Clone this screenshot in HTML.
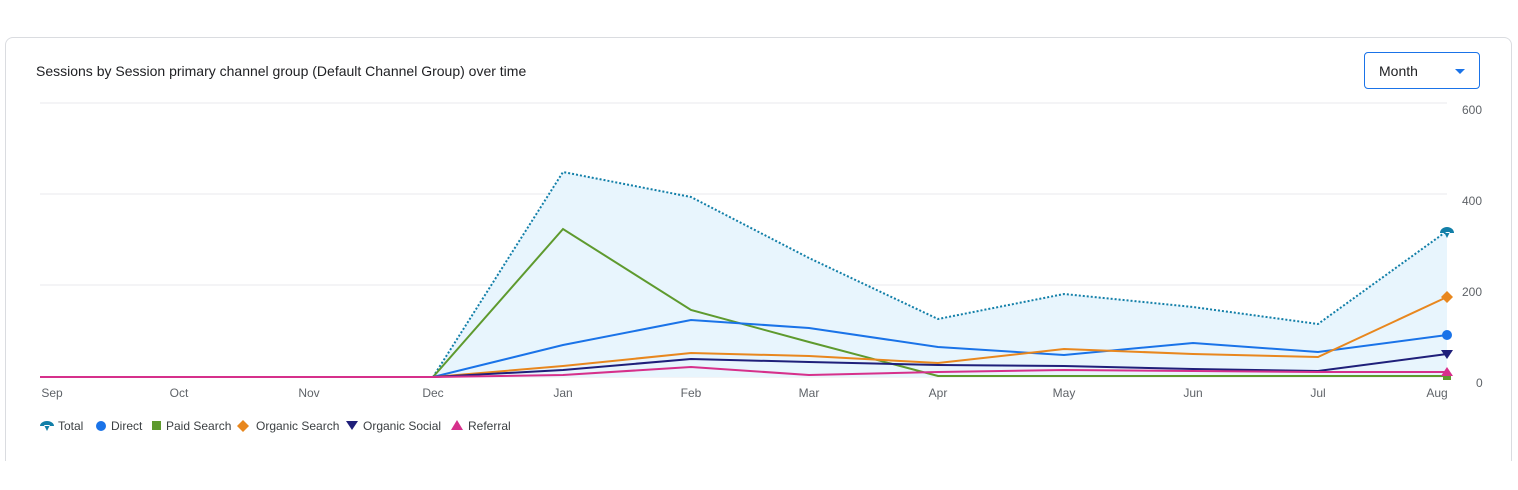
<!DOCTYPE html>
<html><head><style>
body{margin:0;background:#fff;font-family:"Liberation Sans",sans-serif;}
.card{position:absolute;left:5px;top:37px;width:1505px;height:423px;border:1px solid #dadce0;border-bottom:none;border-radius:8px 8px 0 0;background:#fff;}
.title{position:absolute;left:36px;top:63px;font-size:14px;color:#202124;}
.sel{position:absolute;left:1364px;top:52px;width:116px;height:37px;border:1.5px solid #1a73e8;border-radius:4px;box-sizing:border-box;}
.sel span{position:absolute;left:14px;top:10px;font-size:14px;color:#202124;}
.sel i{position:absolute;right:14px;top:16px;width:0;height:0;border-left:5px solid transparent;border-right:5px solid transparent;border-top:5px solid #1a73e8;}
</style></head><body>
<div class="card"></div>
<div class="title">Sessions by Session primary channel group (Default Channel Group) over time</div>
<div class="sel"><span>Month</span><i></i></div>
<svg width="1518" height="490" style="position:absolute;left:0;top:0" font-family="Liberation Sans, sans-serif">
<g stroke="#e8eaed" stroke-width="1">
<line x1="40" y1="103" x2="1447" y2="103"/><line x1="40" y1="194" x2="1447" y2="194"/><line x1="40" y1="285" x2="1447" y2="285"/><line x1="40" y1="377" x2="1447" y2="377"/>
</g>
<g fill="#5f6368" font-size="12">
<text x="1462" y="114">600</text><text x="1462" y="205">400</text><text x="1462" y="296">200</text><text x="1476" y="387">0</text>
<g text-anchor="middle"><text x="52" y="397">Sep</text><text x="179" y="397">Oct</text><text x="309" y="397">Nov</text><text x="433" y="397">Dec</text><text x="563" y="397">Jan</text><text x="691" y="397">Feb</text><text x="809" y="397">Mar</text><text x="938" y="397">Apr</text><text x="1064" y="397">May</text><text x="1193" y="397">Jun</text><text x="1318" y="397">Jul</text><text x="1437" y="397">Aug</text></g>
</g>
<polygon fill="#e8f5fd" points="433,377 563,172 691,197 809,258 938,319 1064,294 1193,307 1318,324 1447,231 1447,377"/>
<polyline fill="none" stroke="#127fa8" stroke-width="2" stroke-dasharray="2,2" points="433,377 563,172 691,197 809,258 938,319 1064,294 1193,307 1318,324 1447,231"/>
<polyline fill="none" stroke="#5e9a2e" stroke-width="2" points="40,377 433,377 563,229 691,310 809,342 938,376 1447,376"/>
<polyline fill="none" stroke="#1a73e8" stroke-width="2" points="40,377 433,377 563,345 691,320 809,328 938,347 1064,355 1193,343 1318,352 1447,335"/>
<polyline fill="none" stroke="#e8871e" stroke-width="2" points="40,377 433,377 563,366 691,353 809,356 938,363 1064,349 1193,354 1318,357 1447,297"/>
<polyline fill="none" stroke="#1f1f7a" stroke-width="2" points="40,377 433,377 563,370 691,359 809,362 938,365 1064,366 1193,369 1318,371 1447,354"/>
<polyline fill="none" stroke="#d6308b" stroke-width="2" points="40,377 433,377 563,375 691,367 809,375 938,372 1064,370 1193,371 1318,372 1447,372"/>
<path d="M1440,233 a7,6 0 0 1 14,0 z M1444,232 l3,6 l3,-6z" fill="#127fa8"/>
<circle cx="1447" cy="335" r="5" fill="#1a73e8"/>
<rect x="1443" y="373" width="8" height="7" fill="#5e9a2e"/>
<path d="M1447,291 l6,6 l-6,6 l-6,-6z" fill="#e8871e"/>
<path d="M1441,350 h12 l-6,9z" fill="#1f1f7a"/>
<path d="M1447,367 l6,9 h-12z" fill="#d6308b"/>
<g font-size="12" fill="#3c4043">
<path d="M40,426 a7,5 0 0 1 14,0 z M44,425 l3,6 l3,-6z" fill="#127fa8"/><text x="58" y="430">Total</text>
<circle cx="101" cy="426" r="5" fill="#1a73e8"/><text x="111" y="430">Direct</text>
<rect x="152" y="421" width="9" height="9" fill="#5e9a2e"/><text x="166" y="430">Paid Search</text>
<path d="M243,420 l6,6 l-6,6 l-6,-6z" fill="#e8871e"/><text x="256" y="430">Organic Search</text>
<path d="M346,421 h12 l-6,9z" fill="#1f1f7a"/><text x="363" y="430">Organic Social</text>
<path d="M457,420 l6,10 h-12z" fill="#d6308b"/><text x="468" y="430">Referral</text>
</g>
</svg>
</body></html>
